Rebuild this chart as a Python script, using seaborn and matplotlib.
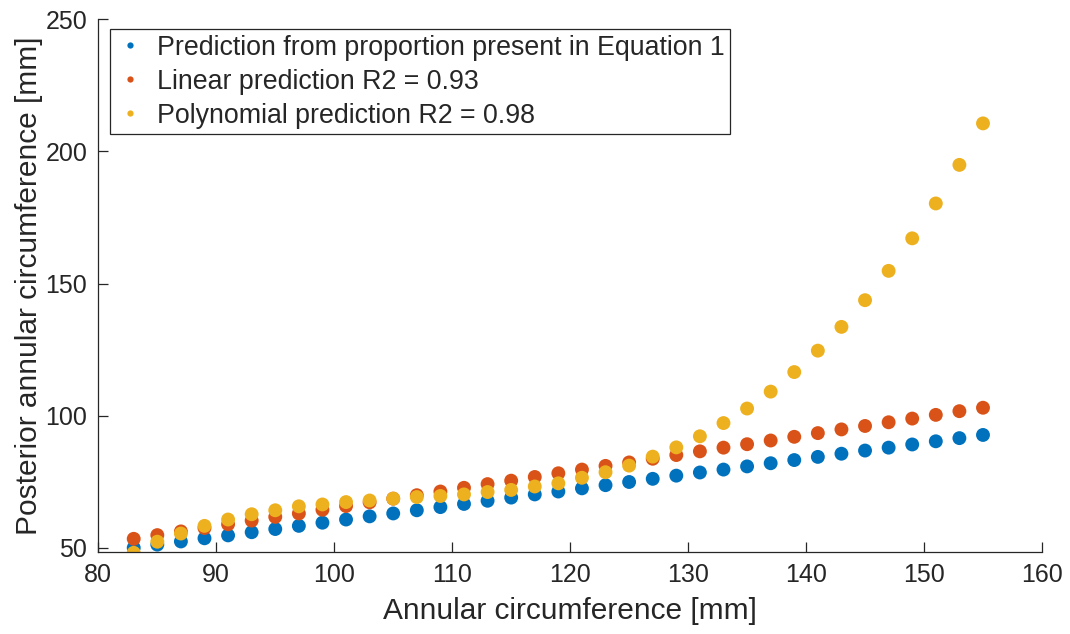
import pandas as pd
import matplotlib
matplotlib.use('Agg')
import matplotlib.pyplot as plt
import seaborn as sns

# annular circumference [mm]
circ = [83, 85, 87, 89, 91, 93, 95, 97, 99, 101, 103, 105, 107, 109, 111, 113, 115, 117, 119,
        121, 123, 125, 127, 129, 131, 133, 135, 137, 139, 141, 143, 145, 147, 149, 151, 153, 155]

proportion = [50.0, 51.2, 52.4, 53.6, 54.7, 55.9, 57.1, 58.3, 59.5, 60.7, 61.9, 63.0, 64.2, 65.4,
              66.6, 67.8, 69.0, 70.2, 71.3, 72.5, 73.7, 74.9, 76.1, 77.3, 78.5, 79.6, 80.8, 82.0,
              83.2, 84.4, 85.6, 86.8, 87.9, 89.1, 90.3, 91.5, 92.7]

linear = [53.4, 54.8, 56.2, 57.5, 58.9, 60.3, 61.7, 63.0, 64.4, 65.8, 67.2, 68.6, 69.9, 71.3,
          72.7, 74.1, 75.4, 76.8, 78.2, 79.6, 81.0, 82.3, 83.7, 85.1, 86.5, 87.9, 89.2, 90.6,
          92.0, 93.4, 94.8, 96.1, 97.5, 98.9, 100.3, 101.7, 103.0]

poly = [48.1, 52.3, 55.4, 58.3, 60.7, 62.7, 64.2, 65.7, 66.4, 67.3, 67.9, 68.6, 69.2, 69.6,
        70.2, 71.1, 71.9, 73.2, 74.4, 76.5, 78.6, 81.1, 84.5, 88.0, 92.2, 97.2, 102.7, 109.1,
        116.5, 124.6, 133.6, 143.7, 154.8, 167.1, 180.3, 194.9, 210.6]

labels = ['Prediction from proportion present in Equation 1',
          'Linear prediction R2 = 0.93',
          'Polynomial prediction R2 = 0.98']
colors = ['#0072BD', '#D95319', '#EDB120']

df = pd.DataFrame({
    'circ': circ * 3,
    'post': proportion + linear + poly,
    'model': [labels[0]] * len(circ) + [labels[1]] * len(circ) + [labels[2]] * len(circ),
})

sns.set_style('ticks')
plt.rcParams['font.family'] = ['Liberation Sans', 'DejaVu Sans']
plt.rcParams['axes.edgecolor'] = '#262626'
plt.rcParams['xtick.color'] = '#262626'
plt.rcParams['ytick.color'] = '#262626'

fig = plt.figure(figsize=(10.7, 6.34), dpi=100)
ax = fig.add_axes([0.0919, 0.1293, 0.8819, 0.8403])

sns.scatterplot(data=df, x='circ', y='post', hue='model', hue_order=labels,
                palette=colors, s=100, linewidth=0, alpha=1, ax=ax)

ax.set_xlim(80, 160)
ax.set_ylim(48.4, 250)
ax.set_xticks([80, 90, 100, 110, 120, 130, 140, 150, 160])
ax.set_yticks([50, 100, 150, 200, 250])
ax.tick_params(direction='in', length=7, width=0.9, labelsize=18, pad=8)
sns.despine(ax=ax)
ax.spines['left'].set_linewidth(0.9)
ax.spines['bottom'].set_linewidth(0.9)

ax.set_xlabel('Annular circumference [mm]', fontsize=21.5, color='#262626', labelpad=7)
ax.set_ylabel('Posterior annular circumference [mm]', fontsize=21.5, color='#262626', labelpad=2)

leg = ax.legend(loc='upper left', bbox_to_anchor=(0.012, 0.981), fontsize=19.3,
                markerscale=0.45, frameon=True, fancybox=False, edgecolor='#262626',
                framealpha=1, borderpad=0.2, handletextpad=0.45, labelspacing=0.3,
                handlelength=1.1, borderaxespad=0)
leg.get_frame().set_linewidth(0.9)

fig.savefig('out.png', dpi=100)
